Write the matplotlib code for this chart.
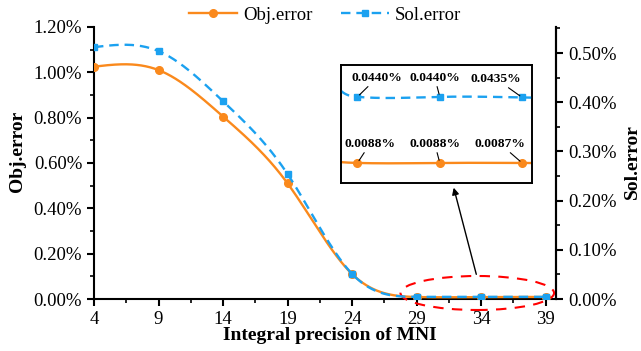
import numpy as np
import matplotlib
matplotlib.use("Agg")
import matplotlib.pyplot as plt
from matplotlib.patches import Ellipse
from matplotlib.lines import Line2D
from matplotlib.ticker import FuncFormatter, MultipleLocator, FixedLocator


# data (errors in percent)
precision = [4, 9, 14, 19, 24, 29, 34, 39]
obj_err = [1.025, 1.01, 0.805, 0.51, 0.11, 0.0088, 0.0088, 0.0087]
sol_err = [0.512, 0.504, 0.402, 0.254, 0.051, 0.0044, 0.0044, 0.00435]
zoom_x = [29, 34, 39]
obj_labels = ["0.0088%", "0.0088%", "0.0087%"]
sol_labels = ["0.0440%", "0.0440%", "0.0435%"]

ORANGE = "#FA891C"
BLUE = "#1BA1F0"

plt.rcParams["font.family"] = ["Liberation Serif", "DejaVu Serif"]


def natural_spline(x, y, xs):
    x = np.asarray(x, float)
    y = np.asarray(y, float)
    n = len(x)
    h = np.diff(x)
    A = np.zeros((n, n))
    b = np.zeros(n)
    A[0, 0] = A[-1, -1] = 1
    for i in range(1, n - 1):
        A[i, i - 1] = h[i - 1]
        A[i, i] = 2 * (h[i - 1] + h[i])
        A[i, i + 1] = h[i]
        b[i] = 3 * ((y[i + 1] - y[i]) / h[i] - (y[i] - y[i - 1]) / h[i - 1])
    c = np.linalg.solve(A, b)
    idx = np.clip(np.searchsorted(x, xs) - 1, 0, n - 2)
    dx = xs - x[idx]
    bb = (y[1:] - y[:-1]) / h - h * (2 * c[:-1] + c[1:]) / 3
    d = (c[1:] - c[:-1]) / (3 * h)
    return y[idx] + bb[idx] * dx + c[idx] * dx ** 2 + d[idx] * dx ** 3


fig = plt.figure(figsize=(6.41, 3.51), dpi=100)
ax = fig.add_axes([94 / 641, 1 - 299 / 351, 462 / 641, 272 / 351])
ax2 = ax.twinx()

xs = np.linspace(4, 39, 500)
ax.plot(xs, natural_spline(precision, obj_err, xs), color=ORANGE, lw=1.7, zorder=3)
ax.plot(precision, obj_err, "o", color=ORANGE, ms=5.5, zorder=4)
ax2.plot(xs, natural_spline(precision, sol_err, xs), color=BLUE, lw=1.7,
         dashes=(4, 2.5), zorder=3)
ax2.plot(precision, sol_err, "s", color=BLUE, ms=5, zorder=4)

ax.set_xlim(4, 39.8)
ax.set_ylim(0, 1.2)
ax2.set_ylim(0, 0.553)
ax.xaxis.set_major_locator(FixedLocator(precision))
ax.xaxis.set_minor_locator(FixedLocator(np.arange(6.5, 40, 5)))
ax.yaxis.set_major_locator(MultipleLocator(0.2))
ax.yaxis.set_minor_locator(MultipleLocator(0.1))
ax2.yaxis.set_major_locator(MultipleLocator(0.1))
ax2.yaxis.set_minor_locator(MultipleLocator(0.05))
pct = FuncFormatter(lambda v, p: "%.2f%%" % v)
ax.yaxis.set_major_formatter(pct)
ax2.yaxis.set_major_formatter(pct)

for a in (ax, ax2):
    a.spines["top"].set_visible(False)
    for s in a.spines.values():
        s.set_linewidth(1.5)
    a.tick_params(which="major", direction="out", length=5, width=1.5, labelsize=13.5)
    a.tick_params(which="minor", direction="out", length=3, width=1.2)
ax2.spines["left"].set_visible(False)
ax2.spines["bottom"].set_visible(False)

ax.set_xlabel("Integral precision of MNI", fontsize=14, fontweight="bold", va="center")
ax.xaxis.set_label_coords(0.511, -0.135)
ax.set_ylabel("Obj.error", fontsize=14, fontweight="bold", va="center")
ax.yaxis.set_label_coords(-0.166, 0.544)
ax2.set_ylabel("Sol.error", fontsize=14, fontweight="bold", rotation=90, va="center")
ax2.yaxis.set_label_coords(1.166, 0.504)

handles = [
    Line2D([], [], color=ORANGE, lw=1.7, marker="o", ms=5.5),
    Line2D([], [], color=BLUE, lw=1.7, dashes=(4, 2.5), marker="s", ms=5),
]
fig.legend(handles, ["Obj.error", "Sol.error"], loc="center", bbox_to_anchor=(0.507, 0.957),
           ncol=2, frameon=False, fontsize=13.5, handlelength=2.6, handletextpad=0.3,
           columnspacing=1.5)

# dashed red ellipse round the tail
ell = Ellipse((33.7, 0.0265), 11.9, 0.15, fill=False, ec="red", lw=1.5,
              ls=(0, (5, 4)), clip_on=False, zorder=5)
ax.add_patch(ell)

ax.annotate("", xy=(453, 166), xycoords="figure pixels", xytext=(477, 74),
            textcoords="figure pixels",
            arrowprops=dict(arrowstyle="-|>", color="black", lw=1, mutation_scale=10))

# inset
ins = fig.add_axes([341 / 641, 1 - 183 / 351, 191 / 641, 118 / 351], zorder=10)
ins2 = ins.twinx()
xi = np.linspace(28, 39.6, 300)
ov = natural_spline(precision, obj_err, xi)
sv = natural_spline(precision, sol_err, xi)
mid = (xi >= 29) & (xi <= 39)
dev_o = max(obj_err[-3] - ov[mid].min(), ov[0] - obj_err[-3], 1e-6)
dev_s = max(sol_err[-3] - sv[mid].min(), sv[0] - sol_err[-3], 1e-6)
rng_o = dev_o * 118 / 0.8
rng_s = dev_s * 118 / 6.0
lo_o = obj_err[-3] - 0.17 * rng_o
lo_s = sol_err[-3] - 0.73 * rng_s
ins.plot(xi, ov, color=ORANGE, lw=1.7)
ins.plot(zoom_x, obj_err[-3:], "o", color=ORANGE, ms=5.5)
ins2.plot(xi, sv, color=BLUE, lw=1.7, dashes=(4, 2.5))
ins2.plot(zoom_x, sol_err[-3:], "s", color=BLUE, ms=5)
ins.set_xlim(28, 39.6)
ins.set_ylim(lo_o, lo_o + rng_o)
ins2.set_ylim(lo_s, lo_s + rng_s)
for a in (ins, ins2):
    a.set_xticks([])
    a.set_yticks([])
    for s in a.spines.values():
        s.set_linewidth(1.2)

obj_off = [(9, 9.4), (-3.6, 9.4), (-15.8, 9.4)]
sol_off = [(14, 9.4), (-3.6, 9.4), (-18.7, 9.0)]
for i, xv in enumerate(zoom_x):
    ins.annotate(obj_labels[i], xy=(xv, obj_err[-3 + i]), xytext=obj_off[i],
                 textcoords="offset points", ha="center", va="bottom", fontsize=9.7,
                 fontweight="bold", arrowprops=dict(arrowstyle="-", lw=0.8, color="black",
                                                    shrinkA=0, shrinkB=2))
    ins2.annotate(sol_labels[i], xy=(xv, sol_err[-3 + i]), xytext=sol_off[i],
                  textcoords="offset points", ha="center", va="bottom", fontsize=9.7,
                  fontweight="bold", arrowprops=dict(arrowstyle="-", lw=0.8, color="black",
                                                     shrinkA=0, shrinkB=2))

fig.savefig("out.png", dpi=100)
